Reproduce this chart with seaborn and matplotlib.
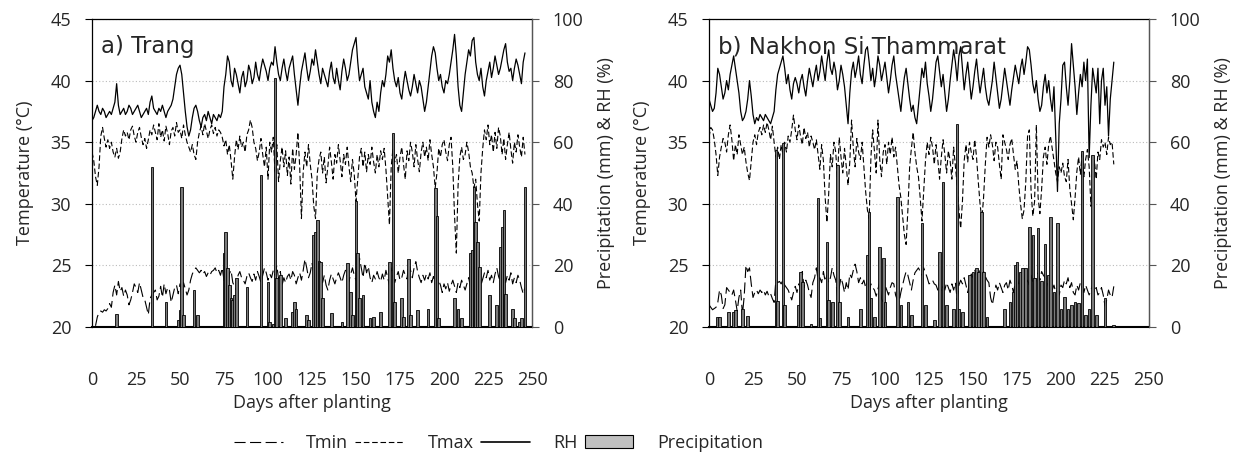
import numpy as np
import pandas as pd
import matplotlib
matplotlib.use("Agg")
import matplotlib.pyplot as plt
import seaborn as sns
from matplotlib.lines import Line2D
from matplotlib.patches import Patch

# ------------------ data: a) Trang ------------------
trang_rh = [
    67, 68, 70, 72, 70, 69, 71, 70, 68, 69,
    70, 69, 71, 73, 79, 72, 69, 70, 71, 69,
    70, 72, 71, 69, 70, 71, 72, 70, 68, 69,
    70, 71, 69, 73, 75, 71, 70, 69, 71, 70,
    72, 70, 68, 70, 71, 72, 74, 78, 82, 84,
    85, 82, 76, 70, 65, 62, 64, 68, 71, 72,
    70, 67, 65, 68, 69, 67, 70, 68, 66, 69,
    68, 67, 69, 68, 70, 78, 82, 88, 86, 80,
    78, 84, 82, 79, 76, 81, 83, 78, 80, 85,
    83, 79, 81, 86, 82, 80, 84, 87, 85, 83,
    80, 84, 86, 85, 91, 86, 82, 80, 84, 87,
    83, 80, 84, 86, 88, 82, 77, 72, 78, 83,
    86, 89, 84, 80, 83, 87, 85, 90, 86, 82,
    79, 84, 82, 80, 78, 83, 86, 81, 79, 84,
    80, 77, 83, 87, 84, 80, 82, 86, 90, 92,
    94, 86, 80, 82, 84, 78, 76, 74, 80, 73,
    70, 68, 73, 70, 76, 80, 78, 82, 88, 86,
    90, 84, 80, 78, 81, 76, 74, 79, 83, 80,
    77, 75, 78, 82, 79, 76, 80, 78, 74, 70,
    73, 78, 83, 88, 91, 89, 84, 80, 82, 78,
    76, 80, 79, 82, 86, 90, 95, 88, 78, 72,
    70, 76, 82, 86, 90, 88, 93, 94, 86, 82,
    80, 84, 78, 75, 80, 83, 86, 81, 84, 88,
    85, 82, 84, 87, 90, 92, 86, 83, 84, 80,
    84, 87, 85, 82, 79, 86, 89,
]
trang_tmax = [
    34.2, 33.5, 32.2, 31.5, 33.0, 35.5, 36.2, 35.3, 34.6, 35.2,
    34.5, 35.0, 34.2, 33.8, 34.5, 33.7, 34.2, 35.3, 36.0, 35.5,
    35.8, 35.2, 36.0, 36.3, 35.5, 35.0, 35.8, 36.2, 35.4, 34.8,
    35.3, 34.5, 35.2, 36.0, 35.6, 36.4, 35.8, 35.2, 36.5, 35.4,
    36.0, 35.1, 36.3, 35.7, 34.8, 35.9, 36.2, 35.5, 36.6, 35.8,
    36.0, 35.3, 36.4, 35.6, 35.0, 34.6, 34.2, 34.8, 34.0, 33.6,
    35.0, 35.8, 36.3, 35.6, 36.5, 35.9, 35.3, 36.0, 36.4, 35.7,
    36.2, 35.5, 36.0, 35.8, 35.4, 34.7, 35.2, 34.0, 34.8, 33.5,
    32.0, 33.8, 35.2, 34.4, 35.5, 34.6, 35.0, 34.2, 35.6, 36.0,
    36.8, 36.2, 35.0, 34.5, 33.5, 34.2, 35.3, 34.0, 33.0, 34.6,
    32.0, 35.0, 34.2, 35.4, 32.5, 34.8, 31.8, 33.5, 34.6, 33.0,
    34.3, 32.3, 33.8, 31.6, 34.5, 32.8, 34.0, 35.8, 33.0, 28.8,
    32.6, 34.2, 33.0, 34.8, 33.2, 32.0, 29.8, 28.8, 32.5, 33.6,
    34.2, 32.5, 33.8, 31.7, 33.0, 34.6, 33.4, 32.0, 34.0, 33.3,
    34.8, 33.5, 32.2, 34.0, 33.2, 34.6, 33.0, 31.8, 33.6, 32.4,
    30.2, 32.0, 33.8, 34.5, 33.0, 34.2, 32.6, 34.0, 33.2, 34.6,
    33.4, 32.5, 34.0, 33.0, 34.3, 33.6, 34.5, 32.8, 30.5, 28.3,
    33.0, 34.5, 33.4, 34.0, 32.5, 33.8, 34.6, 33.2, 32.0, 34.3,
    33.5, 35.0, 34.2, 33.0, 34.8, 33.6, 32.6, 34.2, 35.0, 33.8,
    34.6, 33.5, 35.2, 34.0, 33.0, 31.3, 32.5, 34.5, 33.8, 34.8,
    35.2, 34.2, 33.5, 34.8, 35.4, 33.0, 29.0, 26.0, 31.5, 33.8,
    34.6, 33.6, 34.0, 35.0, 34.2, 33.0, 32.5, 31.3, 32.0, 30.0,
    28.6, 32.5, 34.5, 36.0, 35.2, 36.4, 34.8, 35.6, 34.2, 35.8,
    34.5, 36.2, 35.5, 34.0, 35.3, 33.6, 34.8, 35.8, 34.4, 33.3,
    35.0, 34.2, 35.6, 34.6, 33.8, 35.4, 34.0,
]
trang_tmin = [
    np.nan, np.nan, 20.1, 20.8, 21.2, 21.3, 21.2, 21.4, 21.3, 21.5,
    21.9, 21.6, 22.8, 23.4, 22.6, 23.7, 22.9, 23.2, 22.5, 23.0,
    22.6, 21.8, 22.2, 22.8, 23.5, 23.2, 22.8, 23.6, 23.0, 22.4,
    22.2, 21.6, 21.0, 22.3, 22.6, 22.8, 23.0, 22.2, 22.5, 23.3,
    22.4, 23.5, 22.7, 23.2, 23.0, 22.0, 22.6, 23.2, 23.4, 22.7,
    23.5, 22.8, 23.6, 23.1, 22.6, 23.0, 23.8, 24.3, 24.6, 24.8,
    24.6, 24.4, 24.6, 24.3, 24.5, 24.1, 24.4, 24.2, 24.5, 24.6,
    24.8, 24.4, 24.6, 24.2, 24.8, 23.8, 23.2, 22.9, 24.3, 24.6,
    23.6, 23.3, 23.0, 24.2, 24.5, 24.0, 23.8, 23.5, 24.1, 24.4,
    24.0, 23.7, 24.3, 23.8, 24.5, 24.1, 23.6, 24.2, 24.8, 24.4,
    23.8, 24.3, 24.0, 24.6, 24.2, 25.0, 23.9, 24.5, 23.4, 24.0,
    23.6, 24.1, 24.3, 23.8, 24.5, 24.2, 23.5, 24.0, 24.4, 23.8,
    24.6, 25.5, 24.8, 24.0, 24.4, 25.2, 24.3, 23.6, 24.2, 24.8,
    24.0, 23.6, 24.2, 23.4, 23.0, 23.8, 24.3, 23.9, 23.5, 24.0,
    24.4, 24.0, 23.6, 24.2, 24.6, 24.1, 23.7, 24.3, 24.8, 24.2,
    23.8, 24.6, 25.6, 24.8, 24.0, 25.2, 24.4, 24.9, 24.0, 23.6,
    24.2, 23.9, 24.5, 24.0, 23.7, 24.3, 23.8, 24.6, 24.0, 23.4,
    24.8, 24.2, 23.6, 24.1, 24.5, 23.8, 24.0, 24.6, 24.2, 23.9,
    25.2, 24.6, 24.0, 24.8, 25.3, 24.5, 24.0, 23.6, 24.2, 23.8,
    24.3, 23.9, 24.4, 23.6, 24.1, 23.5, 23.2, 23.8, 23.4, 22.8,
    23.5, 23.1, 23.6, 22.9, 23.4, 23.8, 23.3, 22.8, 23.6, 23.2,
    23.8, 23.4, 23.0, 23.5, 24.0, 23.3, 23.8, 22.6, 24.2, 23.5,
    22.8, 23.4, 23.9, 24.4, 24.0, 24.6, 23.8, 24.2, 23.6, 24.3,
    24.8, 24.1, 23.7, 24.5, 24.0, 23.6, 24.2, 23.8, 24.4, 23.5,
    24.0, 23.6, 24.2, 23.8, 23.2, 22.7, 23.2,
]
trang_rain_day = [14, 34, 42, 49, 50, 51, 52, 58, 60, 75, 76, 77, 78, 79, 80, 81, 82, 88,
                  96, 100, 101, 103, 104, 105, 107, 110, 114, 115, 116, 122, 123, 126, 127,
                  128, 129, 130, 131, 136, 142, 145, 147, 148, 150, 151, 152, 154, 158, 160,
                  164, 169, 171, 172, 176, 177, 180, 181, 185, 191, 195, 196, 197, 206, 208,
                  210, 215, 216, 217, 218, 219, 220, 226, 230, 232, 233, 234, 235, 239, 240,
                  243, 244, 246]
trang_rain_mm = [4.2, 52, 8, 2.2, 5.5, 45.5, 4, 12, 4, 24, 30.7, 19, 13.6, 9.3, 8.8, 10.4, 16, 13,
                 49.4, 14.7, 1.5, 1, 81, 15.8, 17, 2.8, 5, 8.2, 6, 4, 2.3, 30, 31,
                 34.7, 21.5, 21, 9.3, 4.5, 1.5, 20.7, 11.5, 3.8, 41, 24, 9.5, 10.5, 2.8, 3.4,
                 5, 21, 63, 8.2, 9.5, 3.4, 22, 4, 5.5, 6, 45, 36, 3, 9.3, 6,
                 2.8, 24, 25, 45.6, 34, 27.7, 19.6, 10.4, 7.2, 26, 32.6, 38, 10.8, 6, 2.8,
                 1.5, 2.8, 45.6]

# ------------------ data: b) Nakhon Si Thammarat ------------------
nakhon_rh = [
    74, 72, 70, 71, 76, 84, 82, 78, 74, 76,
    80, 77, 82, 85, 88, 84, 80, 76, 70, 67,
    68, 70, 74, 80, 75, 69, 66, 68, 67, 69,
    68, 67, 69, 68, 67, 66, 68, 70, 77, 82,
    84, 86, 88, 84, 79, 82, 77, 74, 79, 81,
    79, 76, 80, 82, 78, 75, 80, 84, 81, 78,
    82, 85, 80, 83, 88, 84, 80, 86, 90, 84,
    82, 86, 83, 77, 80, 85, 82, 78, 72, 66,
    76, 83, 86, 81, 84, 88, 82, 79, 85, 90,
    91, 86, 80, 84, 78, 82, 88, 85, 80, 83,
    86, 81, 76, 80, 85, 88, 82, 78, 74, 70,
    76, 81, 84, 79, 74, 70, 72, 68, 66, 72,
    78, 84, 81, 86, 79, 75, 70, 74, 80, 86,
    88, 83, 78, 82, 76, 70, 74, 80, 85, 90,
    86, 80, 88, 91, 84, 77, 82, 86, 80, 74,
    78, 83, 87, 81, 76, 80, 84, 78, 74, 72,
    76, 80, 86, 81, 76, 71, 74, 79, 84, 80,
    76, 72, 77, 81, 85, 82, 79, 84, 87, 82,
    86, 91, 90, 85, 79, 76, 80, 74, 70, 72,
    78, 82, 76, 80, 74, 70, 78, 62, 44, 66,
    74, 85, 86, 78, 72, 80, 92, 85, 78, 69,
    76, 82, 78, 86, 80, 87, 55, 72, 84, 80,
    76, 84, 66, 80, 84, 72, 78, 62, 74, 80,
    86,
]
nakhon_tmax = [
    35.4, 36.2, 36.0, 35.2, 34.0, 32.3, 33.8, 34.6, 35.3, 35.0,
    34.2, 35.6, 36.4, 35.2, 33.5, 34.8, 34.0, 35.6, 34.8, 34.0,
    34.6, 33.4, 32.5, 31.9, 33.5, 35.0, 35.6, 34.8, 35.8, 36.2,
    35.6, 36.4, 35.8, 36.6, 36.0, 35.2, 36.3, 35.0, 33.8, 34.6,
    33.6, 34.8, 34.0, 35.0, 34.2, 35.5, 35.0, 36.0, 37.2, 36.0,
    35.2, 36.4, 35.5, 34.8, 36.2, 35.3, 35.8, 34.6, 35.5, 35.0,
    34.4, 35.2, 34.0, 32.8, 34.8, 33.5, 30.5, 28.5, 30.8, 34.0,
    33.0, 35.0, 34.2, 32.0, 35.4, 33.8, 32.5, 34.5, 33.0, 31.5,
    33.4, 36.8, 34.5, 33.0, 35.3, 34.2, 33.6, 35.0, 33.0, 31.0,
    29.5, 28.8, 33.8, 36.0, 34.2, 32.5, 36.8, 33.6, 32.2, 34.2,
    34.8, 33.2, 35.0, 34.0, 35.4, 33.8, 34.6, 33.0, 31.5, 30.5,
    29.0, 27.5, 26.7, 29.5, 33.0, 34.5, 35.8, 34.2, 33.0, 32.2,
    30.5, 28.6, 31.0, 33.5, 35.0, 34.0, 35.4, 34.6, 33.2, 34.8,
    33.6, 32.0, 33.8, 35.2, 34.0, 32.5, 34.3, 33.5, 32.0, 34.6,
    33.0, 31.5, 29.5, 28.0, 30.2, 33.5, 34.8, 33.4, 35.0, 34.2,
    33.6, 35.2, 33.8, 31.8, 30.0, 28.7, 30.5, 33.2, 35.4, 34.6,
    35.6, 34.8, 33.5, 35.0, 34.6, 33.2, 32.0, 35.6, 35.0, 34.4,
    33.6, 34.8, 35.3, 34.0, 32.8, 33.5, 31.5, 30.0, 28.8, 29.5,
    31.8, 35.5, 36.0, 31.0, 29.0, 30.2, 36.4, 30.5, 29.2, 31.2,
    33.8, 34.6, 33.2, 34.8, 35.5, 34.5, 33.5, 32.5, 31.8, 33.0,
    32.5, 33.3, 32.2, 31.8, 33.6, 31.2, 30.0, 28.7, 30.5, 32.6,
    33.8, 32.4, 34.0, 32.2, 33.6, 34.4, 33.0, 29.8, 31.5, 33.5,
    32.0, 34.2, 33.6, 35.2, 34.6, 35.0, 34.0, 35.4, 34.8, 35.0,
    33.2,
]
nakhon_tmin = [
    21.8, 21.6, 21.4, 21.5, 21.6, 22.0, 23.0, 22.6, 21.5, 21.8,
    23.2, 23.0, 22.8, 22.6, 23.0, 22.2, 21.3, 22.4, 23.0, 21.0,
    22.5, 25.0, 24.5, 24.8, 23.5, 22.4, 22.8, 23.0, 22.7, 23.0,
    22.8, 23.0, 22.6, 22.9, 22.5, 22.7, 22.3, 22.0, 23.8, 23.6,
    23.7, 23.5, 23.8, 23.4, 23.2, 23.0, 22.6, 22.2, 22.8, 23.3,
    22.8, 23.5, 23.1, 24.5, 23.2, 23.8, 23.4, 22.8, 22.4, 23.6,
    24.0, 24.8, 23.8, 24.0, 23.6, 24.5, 23.7, 24.2, 23.6, 24.0,
    24.8, 24.2, 23.8, 22.5, 23.2, 24.0, 23.5, 22.8, 23.6, 23.0,
    24.3, 24.0, 24.6, 25.1, 24.5, 23.6, 24.0, 23.5, 23.8, 23.2,
    23.8, 22.8, 23.5, 23.2, 23.0, 22.5, 23.1, 23.6, 22.3, 22.0,
    23.4, 23.0, 22.6, 23.2, 23.6, 23.5, 22.6, 22.2, 22.0, 22.8,
    23.4, 24.0, 24.5, 24.2, 23.6, 23.0, 23.8, 24.4, 24.6, 24.8,
    24.5, 24.2, 24.8, 24.4, 24.0, 23.5, 23.6, 23.8, 23.5, 23.4,
    23.0, 23.6, 22.9, 23.3, 23.0, 23.6, 23.2, 22.8, 23.5, 23.0,
    23.6, 22.2, 23.4, 23.8, 23.5, 24.0, 23.4, 22.8, 23.6, 24.3,
    24.0, 24.6, 24.2, 24.4, 24.6, 24.0, 24.5, 24.1, 23.8, 23.6,
    22.4, 21.8, 22.6, 23.4, 23.0, 23.6, 23.2, 22.8, 23.4, 23.6,
    23.0, 23.8, 23.4, 22.8, 23.6, 24.0, 23.5, 23.2, 23.8, 24.0,
    23.5, 23.8, 23.4, 24.2, 23.6, 23.2, 24.0, 24.4, 23.8, 24.5,
    24.2, 24.0, 23.8, 23.2, 23.6, 23.0, 23.4, 22.8, 23.0, 22.6,
    23.4, 23.2, 23.8, 23.5, 24.0, 23.2, 23.6, 22.8, 22.6, 23.4,
    23.0, 23.6, 23.2, 22.8, 23.4, 23.0, 22.6, 23.0, 23.4, 22.8,
    23.2, 22.6, 22.8, 23.2, 22.6, 21.7, 22.2, 23.0, 22.6, 22.4,
    23.3,
]
nakhon_rain_day = [5, 6, 11, 14, 15, 19, 22, 38, 39, 42, 43, 51, 52, 53, 58, 62, 63, 67, 68, 70,
                   73, 74, 79, 86, 90, 91, 92, 94, 97, 99, 100, 107, 109, 113, 115, 121, 123,
                   128, 131, 133, 135, 139, 141, 142, 144, 148, 150, 152, 153, 155, 156, 158,
                   168, 171, 173, 174, 175, 177, 178, 180, 182, 184, 185, 187, 189, 191, 193,
                   194, 196, 198, 200, 202, 204, 206, 208, 210, 212, 214, 216, 218, 220, 225, 230]
nakhon_rain_mm = [3.4, 3.4, 5, 5, 5.5, 6, 3.5, 57.5, 8.4, 59.6, 7.1, 7.1, 18, 14.7, 1, 41.8, 2.8,
                  27.7, 8.8, 8.2, 52.6, 8.2, 3.4, 6, 23.4, 37.4, 9.3, 3.4, 26, 22.3, 8.2, 42.3,
                  7.1, 8.2, 4, 33.7, 7.1, 2.2, 24.5, 47.2, 7.1, 6, 66, 6, 5, 17, 18, 19, 18,
                  37.4, 18, 3.4, 6, 8.2, 11.5, 20, 21, 18, 19, 19, 32.6, 29.9, 15.8, 32, 15,
                  27, 17, 35.8, 11.5, 33.7, 6, 9.8, 6, 7.1, 8.2, 7.7, 57, 4, 6, 55.8, 4, 9.3, 0.7]

panels = [
    ("a) Trang", trang_tmin, trang_tmax, trang_rh, trang_rain_day, trang_rain_mm),
    ("b) Nakhon Si Thammarat", nakhon_tmin, nakhon_tmax, nakhon_rh, nakhon_rain_day, nakhon_rain_mm),
]

sns.set_style("white")
plt.rcParams["font.family"] = ["Open Sans", "DejaVu Sans"]

TMIN_LS = (0, (10, 4))
TMAX_LS = (0, (5, 2.5))

fig = plt.figure(figsize=(12.46, 4.57), dpi=100)
lefts = [92 / 1246, 709 / 1246]

for left, (title, tmin, tmax, rh, rday, rmm) in zip(lefts, panels):
    ax = fig.add_axes([left, 130 / 457, 440 / 1246, 308 / 457])
    ax2 = ax.twinx()

    d = pd.DataFrame({"day": np.arange(len(tmin)), "tmin": tmin, "tmax": tmax, "rh": rh})

    ax2.bar(rday, rmm, width=1.5, color="#7a7a7a", edgecolor="black", linewidth=0.6, zorder=1)
    sns.lineplot(data=d, x="day", y="rh", ax=ax2, color="black", linewidth=0.9, zorder=3)
    sns.lineplot(data=d, x="day", y="tmax", ax=ax, color="black", linewidth=0.8,
                 linestyle=TMAX_LS, zorder=2)
    sns.lineplot(data=d, x="day", y="tmin", ax=ax, color="black", linewidth=0.8,
                 linestyle=TMIN_LS, zorder=2)

    ax.set_xlim(0, 250)
    ax.set_ylim(20, 45)
    ax2.set_ylim(0, 100)
    ax.set_xticks(range(0, 251, 25))
    ax.set_yticks(range(20, 46, 5))
    ax2.set_yticks(range(0, 101, 20))
    ax.yaxis.grid(True, linestyle=(0, (1, 2)), color="#bbbbbb", linewidth=0.8)
    ax.tick_params(axis="x", direction="out", length=5, pad=27, labelsize=13, color="black")
    ax.tick_params(axis="y", direction="out", length=5, pad=10, labelsize=13, left=True, color="black")
    ax2.tick_params(axis="y", direction="out", length=5, pad=10, labelsize=13, right=True, color="#555555")

    ax.set_xlabel("Days after planting", fontsize=13, labelpad=3)
    ax.set_ylabel("Temperature (°C)", fontsize=13, labelpad=12)
    ax2.set_ylabel("Precipitation (mm) & RH (%)", fontsize=13, labelpad=10)

    for s in ax.spines.values():
        s.set_color("black")
        s.set_linewidth(0.9)
    ax.spines["bottom"].set_linewidth(1.5)
    for s in ax2.spines.values():
        s.set_visible(False)
    ax2.spines["right"].set_visible(True)
    ax2.spines["right"].set_color("#555555")

    ax2.text(0.02, 0.91, title, transform=ax.transAxes, fontsize=16.5,
             family="DejaVu Sans", va="center", ha="left", zorder=5)

handles = [
    Line2D([], [], color="black", linewidth=0.8, linestyle=TMIN_LS),
    Line2D([], [], color="black", linewidth=0.8, linestyle=TMAX_LS),
    Line2D([], [], color="black", linewidth=1.2),
    Patch(facecolor="#c0c0c0", edgecolor="black", linewidth=0.8),
]
fig.legend(handles, ["Tmin", "Tmax", "RH", "Precipitation"], loc="center",
           bbox_to_anchor=(0.40, 14 / 457), ncol=4, frameon=False, fontsize=13,
           handlelength=2.7, handletextpad=1.3, columnspacing=0.4)

fig.savefig("out.png", dpi=100)
